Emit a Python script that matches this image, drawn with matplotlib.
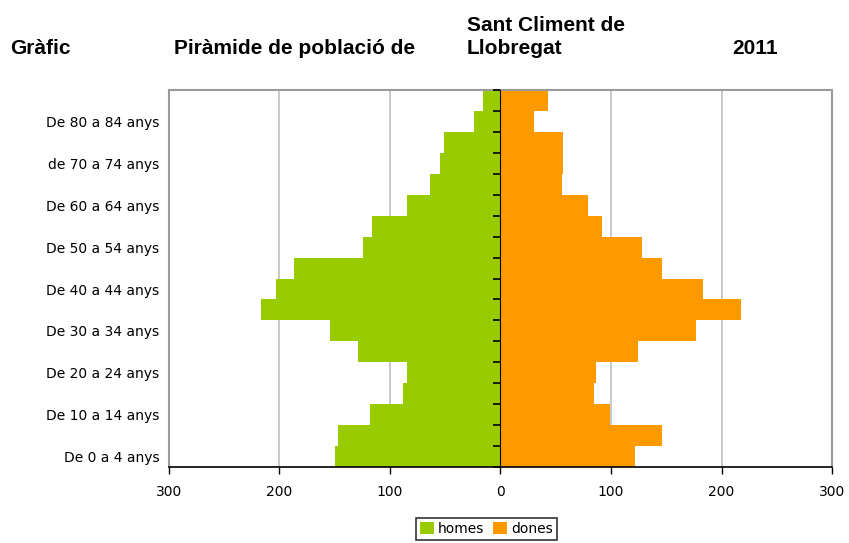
import matplotlib.pyplot as plt
import numpy as np

# age groups, youngest first
groups = ['De 0 a 4 anys', 'De 5 a 9 anys', 'De 10 a 14 anys', 'De 15 a 19 anys',
          'De 20 a 24 anys', 'De 25 a 29 anys', 'De 30 a 34 anys', 'De 35 a 39 anys',
          'De 40 a 44 anys', 'De 45 a 49 anys', 'De 50 a 54 anys', 'De 55 a 59 anys',
          'De 60 a 64 anys', 'De 65 a 69 anys', 'de 70 a 74 anys', 'De 75 a 79 anys',
          'De 80 a 84 anys', 'De 85 anys i més']
homes = [150, 147, 118, 88, 85, 129, 154, 217, 203, 187, 124, 116, 85, 64, 55, 51, 24, 16]
dones = [122, 146, 99, 85, 86, 124, 177, 218, 183, 146, 128, 92, 79, 56, 57, 57, 30, 43]
xticks = [-300, -200, -100, 0, 100, 200, 300]

green = '#99CC00'
orange = '#FF9900'

fig = plt.figure(figsize=(8.49, 5.43), dpi=100)
ax = fig.add_axes([0.199, 0.14, 0.781, 0.694])

y = np.arange(len(groups))
ax.barh(y, [-v for v in homes], height=1.0, color=green, label='homes', zorder=2)
ax.barh(y, dones, height=1.0, color=orange, label='dones', zorder=2)

ax.set_xlim(-300, 300)
ax.set_ylim(-0.5, len(groups) - 0.5)

# x axis
ax.set_xticks(xticks)
ax.set_xticklabels([str(abs(t)) for t in xticks], fontsize=10, family='DejaVu Sans')
ax.tick_params(axis='x', direction='out', length=5, width=1, color='black', pad=8)
ax.xaxis.grid(True, color='#c4c4c4', linewidth=1.3, zorder=0)
ax.set_axisbelow(True)

# y labels on the left, every other group
ax.set_yticks(y[::2])
ax.set_yticklabels(groups[::2], fontsize=10, family='DejaVu Sans')
ax.tick_params(axis='y', length=0, pad=7)

for side in ['top', 'right', 'left']:
    ax.spines[side].set_color('#9a9a9a')
    ax.spines[side].set_linewidth(1.5)
ax.spines['bottom'].set_color('black')
ax.spines['bottom'].set_linewidth(1.2)

# central axis at zero with ticks at group boundaries (ticks point left)
sec = ax.secondary_yaxis(0.5)
sec.set_yticks(np.arange(len(groups) + 1) - 0.5)
sec.set_yticklabels([])
sec.tick_params(direction='in', length=5, width=1.2, color='black')
sec.spines['left'].set_color('black')
sec.spines['left'].set_linewidth(1.5)
sec.set_zorder(5)

# title pieces
tkw = dict(fontsize=15, fontweight='bold', family='Liberation Sans', va='baseline')
fig.text(0.012, 0.9, 'Gràfic', **tkw)
fig.text(0.205, 0.9, 'Piràmide de població de', **tkw)
fig.text(0.55, 0.942, 'Sant Climent de', **tkw)
fig.text(0.55, 0.9, 'Llobregat', **tkw)
fig.text(0.862, 0.9, '2011', **tkw)

leg = fig.legend(loc='center', bbox_to_anchor=(0.573, 0.026), ncol=2,
                 frameon=True, fancybox=False, edgecolor='black',
                 handlelength=1.0, handleheight=1.0, handletextpad=0.3,
                 columnspacing=0.6, borderpad=0.3, prop={'family': 'DejaVu Sans', 'size': 10})
leg.get_frame().set_linewidth(1.2)

fig.savefig('out.png', dpi=100)
